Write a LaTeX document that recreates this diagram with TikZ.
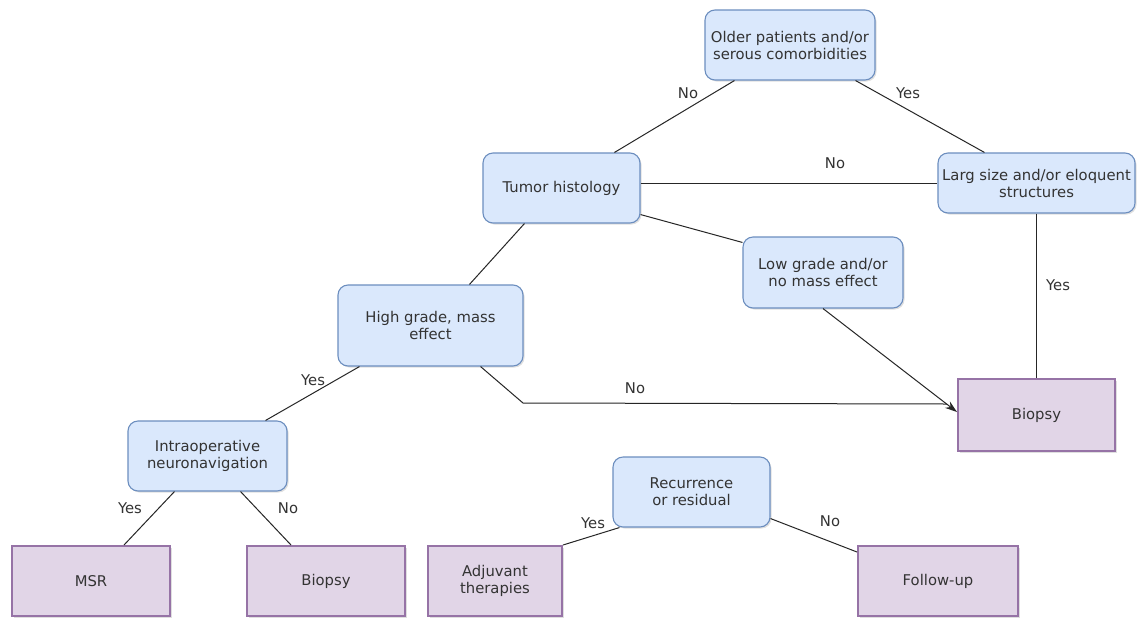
\documentclass[tikz,border=0pt]{standalone}
\usepackage{fontspec}
\setmainfont{DejaVu Sans}
\usetikzlibrary{arrows.meta,shadows}
\definecolor{bfill}{HTML}{DAE8FC}
\definecolor{bdraw}{HTML}{6C8EBF}
\definecolor{pfill}{HTML}{E1D5E7}
\definecolor{pdraw}{HTML}{9673A6}
\definecolor{txt}{HTML}{333333}
\begin{document}
\begin{tikzpicture}[x=1pt,y=-1pt,
  every node/.style={font=\fontsize{14.8}{17}\selectfont, text=txt},
  qbox/.style={draw=bdraw, fill=bfill, rounded corners=10pt, line width=1.1pt, align=center, inner sep=2pt,
    drop shadow={shadow xshift=1.5pt, shadow yshift=-1.5pt, opacity=0.25}},
  abox/.style={draw=pdraw, fill=pfill, line width=2pt, align=center, inner sep=2pt,
    drop shadow={shadow xshift=1.5pt, shadow yshift=-1.5pt, opacity=0.25}},
  conn/.style={draw=black!85, line width=1pt},
  lbl/.style={inner sep=1pt}]
\useasboundingbox (0,0) rectangle (1137,619);
\fill[white] (0,0) rectangle (1137,619);
% decision boxes
\node[qbox, minimum width=170pt, minimum height=70pt] (older) at (790,45) {Older patients and/or\\serous comorbidities};
\node[qbox, minimum width=157pt, minimum height=70pt] (tumor) at (561.5,188) {Tumor histology};
\node[qbox, minimum width=197pt, minimum height=60pt] (larg) at (1036.5,183) {Larg size and/or eloquent\\structures};
\node[qbox, minimum width=160pt, minimum height=71pt] (low) at (823,272.5) {Low grade and/or\\no mass effect};
\node[qbox, minimum width=185pt, minimum height=81pt] (high) at (430.5,325.5) {High grade, mass\\effect};
\node[qbox, minimum width=159pt, minimum height=70pt] (intra) at (207.5,456) {Intraoperative\\neuronavigation};
\node[qbox, minimum width=157pt, minimum height=70pt] (recur) at (691.5,492) {Recurrence\\or residual};
% outcome boxes
\node[abox, minimum width=157pt, minimum height=72pt] (biopsyR) at (1036.5,415) {Biopsy};
\node[abox, minimum width=158pt, minimum height=70pt] (msr) at (91,581) {MSR};
\node[abox, minimum width=158pt, minimum height=70pt] (biopsyB) at (326,581) {Biopsy};
\node[abox, minimum width=134pt, minimum height=70pt] (adj) at (495,581) {Adjuvant\\therapies};
\node[abox, minimum width=160pt, minimum height=70pt] (follow) at (938,581) {Follow-up};
% connectors
\draw[conn] ([xshift=30pt]older.south west) -- ([xshift=132pt]tumor.north west);
\draw[conn] ([xshift=-20pt]older.south east) -- ([xshift=47pt]larg.north west);
\draw[conn] ([yshift=5pt]tumor.east) -- (larg.west);
\draw[conn] ([yshift=9pt]tumor.south east) -- ([yshift=-6pt]low.north west);
\draw[conn] ([xshift=42pt]tumor.south west) -- ([xshift=132pt]high.north west);
\draw[conn] (larg.south) -- (biopsyR.north);
\draw[conn, -{Stealth[length=12pt,width=8pt]}] (low.south) -- ([yshift=3pt]biopsyR.west);
\coordinate (nojoin) at ([xshift=-10pt,yshift=11pt]biopsyR.west);
\draw[conn] ([xshift=-43pt]high.south east) -- (523,403) -- (nojoin);
\draw[conn] ([xshift=22pt]high.south west) -- ([xshift=-22pt]intra.north east);
\draw[conn] ([xshift=47pt]intra.south west) -- ([xshift=113pt]msr.north west);
\draw[conn] ([xshift=-47pt]intra.south east) -- ([xshift=45pt]biopsyB.north west);
\draw[conn] ([xshift=7pt]recur.south west) -- (adj.north east);
\draw[conn] ([yshift=9pt]recur.south east) -- ([yshift=-7pt]follow.north west);
% labels
\node[lbl] (l1) at (688,93) {No};
\node[lbl] (l2) at (908,93) {Yes};
\node[lbl] (l3) at (835,163) {No};
\node[lbl] (l4) at (1058,285) {Yes};
\node[lbl] (l5) at (635,388) {No};
\node[lbl] (l6) at (313,380) {Yes};
\node[lbl] (l7) at (130,508) {Yes};
\node[lbl] (l8) at (288,508) {No};
\node[lbl] (l9) at (593,523) {Yes};
\node[lbl] (l10) at (830,521) {No};
\end{tikzpicture}
\end{document}
